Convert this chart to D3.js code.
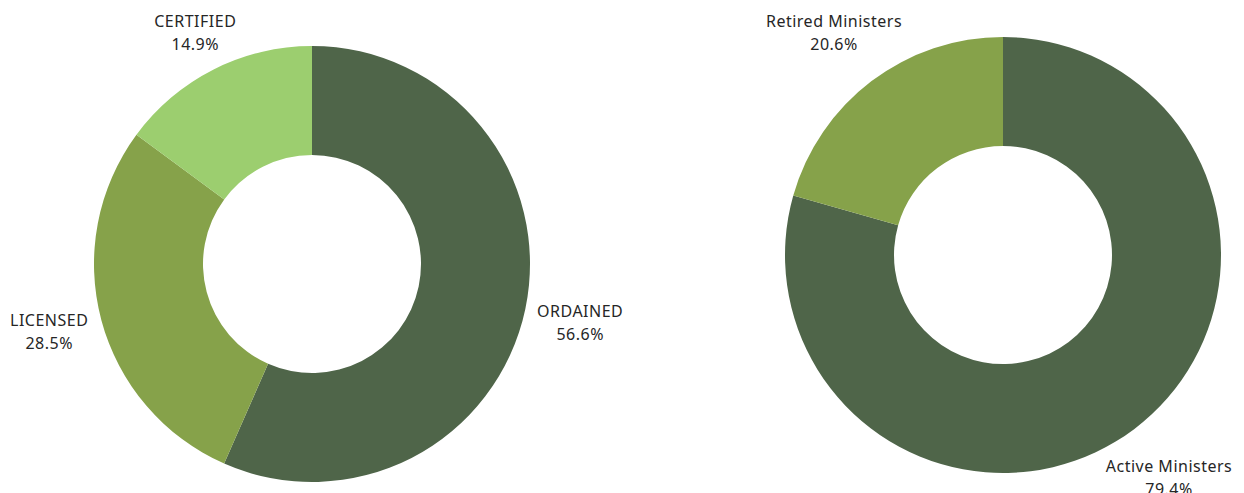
<!DOCTYPE html>
<html>
<head>
<meta charset="utf-8">
<script src="https://cdn.jsdelivr.net/npm/d3@7"></script>
<style>
  body { margin: 0; background: #fff; }
  svg text { font-family: "Noto Sans", sans-serif; font-size: 16px; letter-spacing: 0.5px; fill: #262626; }
</style>
</head>
<body>
<div id="chart"></div>
<script>
// left donut: credential types
const credLabels = ["ORDAINED", "LICENSED", "CERTIFIED"]
const credValues = [56.6, 28.5, 14.9]
// right donut: minister status
const statusLabels = ["Active Ministers", "Retired Ministers"]
const statusValues = [79.4, 20.6]

const colors = ["#4f6549", "#86a24a", "#9cce6f"]

let w = 1244, h = 493
let outerRadius = 218, innerRadius = 109, labelRadius = 272

let svg = d3.select("#chart").append("svg")
            .attr("width", w)
            .attr("height", h)

let arc = d3.arc().innerRadius(innerRadius).outerRadius(outerRadius)
let labelArc = d3.arc().innerRadius(labelRadius).outerRadius(labelRadius)
let pie = d3.pie().sort(null).value(d => d.value)

function donut(cx, cy, labels, values, nudge) {
    let data = labels.map((l, i) => ({label: l, value: values[i]}))
    let g = svg.append("g").attr("transform", "translate(" + cx + "," + cy + ")")
    let arcs = g.selectAll("g.arc")
                .data(pie(data))
                .enter()
                .append("g")
                .attr("class", "arc")

    arcs.append("path")
        .attr("fill", (d, i) => colors[i])
        .attr("d", arc)

    let t = arcs.append("text")
        .attr("text-anchor", "middle")
        .attr("transform", (d, i) => {
            let c = labelArc.centroid(d)
            let n = nudge[i] || [0, 0]
            return "translate(" + (c[0] + n[0]) + "," + (c[1] + n[1]) + ")"
        })
    t.append("tspan").attr("x", 0).attr("y", -4).text(d => d.data.label)
    t.append("tspan").attr("x", 0).attr("y", 19).text(d => d.data.value.toFixed(1) + "%")
}

donut(312, 264, credLabels, credValues, [[2, 1], [0, -4], [6, 10]])
donut(1003, 255, statusLabels, statusValues, [[2, 4], [-5, -7]])
</script>
</body>
</html>
